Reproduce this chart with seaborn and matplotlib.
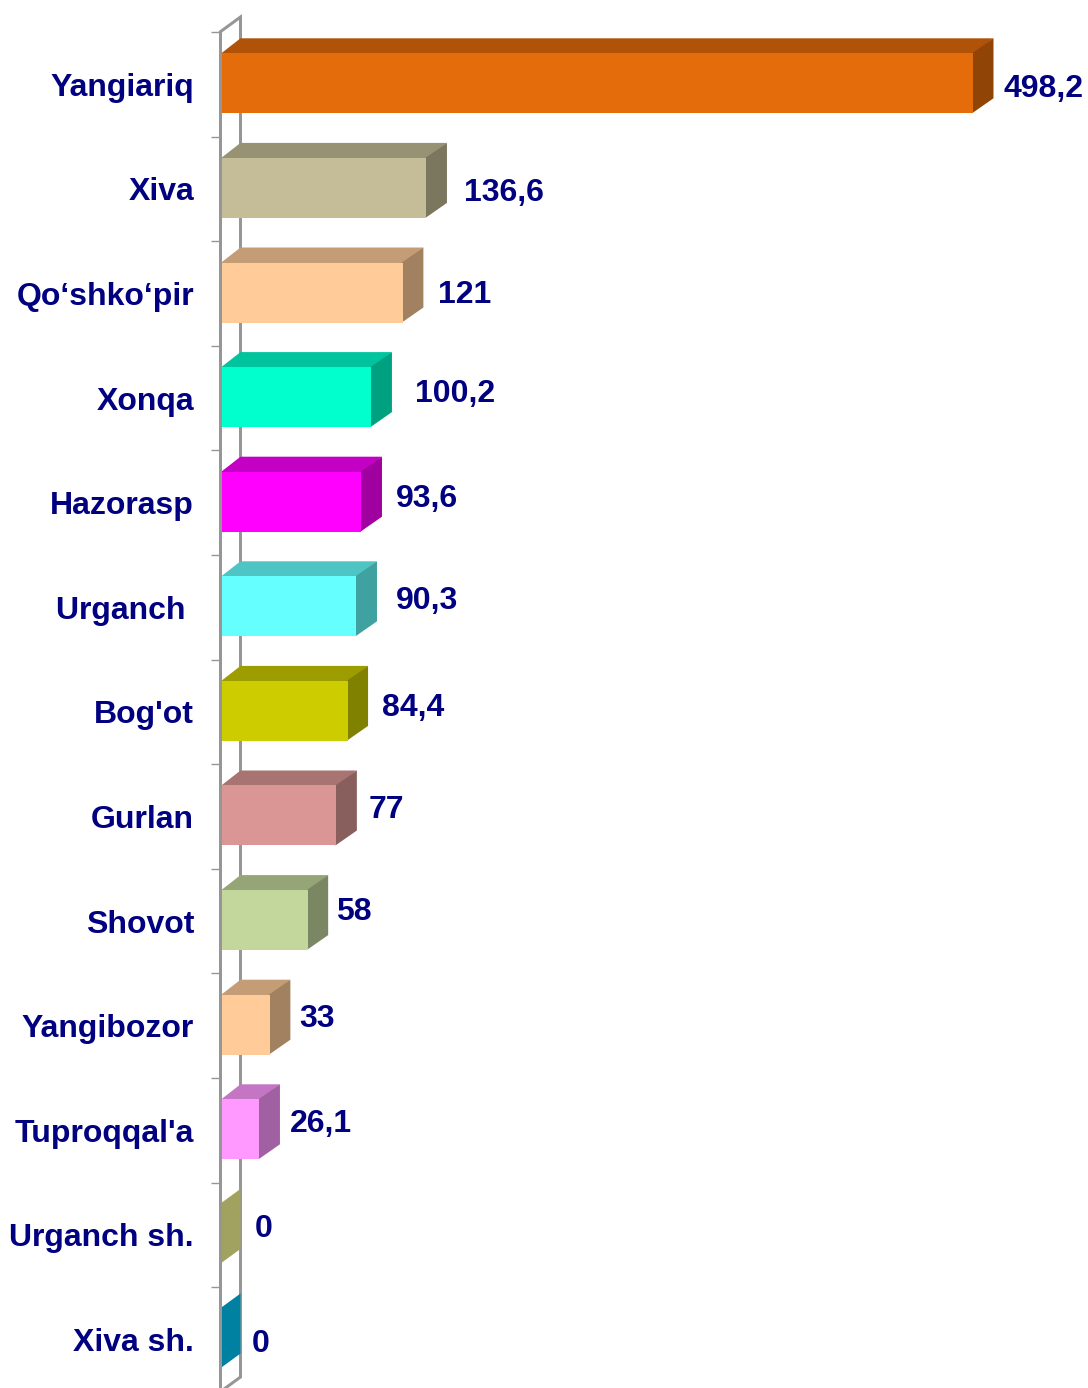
import numpy as np
import pandas as pd
import matplotlib
matplotlib.use("Agg")
import matplotlib.pyplot as plt
import seaborn as sns

categories = ["Yangiariq", "Xiva", "Qo‘shko‘pir", "Xonqa", "Hazorasp", "Urganch ", "Bog'ot",
              "Gurlan", "Shovot", "Yangibozor", "Tuproqqal'a", "Urganch sh.", "Xiva sh."]
values = [498.2, 136.6, 121, 100.2, 93.6, 90.3, 84.4, 77, 58, 33, 26.1, 0, 0]
value_labels = ["498,2", "136,6", "121", "100,2", "93,6", "90,3", "84,4", "77", "58", "33", "26,1", "0", "0"]
colors = ["#E46C0A", "#C4BD97", "#FFCC99", "#00FFCC", "#FF00FF", "#66FFFF", "#CCCC00",
          "#D99694", "#C3D69B", "#FFCC99", "#FF99FF", "#FFFF99", "#00CCFF"]
# label placement relative to the front end of each bar (pixels)
label_dx = [30.5, 38, 35.5, 44, 34, 39, 34, 32.1, 28.8, 29.5, 30.1, 34.5, 31.5]
label_dy = [1.9, 1.4, -1.1, -6.8, -6.2, -8.5, -6.3, -8.6, -11.5, -8.8, -9.2, -8.7, 1.7]

W, H, DPI = 1088, 1388, 100
PX = 72 / DPI
NAVY = "#000080"
GRAY = "#969696"
DEPTH_X, DEPTH_Y = 20.5, 15      # 3-D depth in pixels
X0, PX_PER_UNIT = 220.0, 1.5114
ROW0, ROW = 83.3, 104.6          # row centres in pixels
AX_TOP, AX_BOTTOM = 32, 1392
TICK_STEP = 104.6

sns.set_style("white")
plt.rcParams["font.family"] = ["Liberation Sans", "DejaVu Sans"]

fig = plt.figure(figsize=(W / DPI, H / DPI), dpi=DPI, facecolor="white")
ax = fig.add_axes([X0 / W, (H - AX_BOTTOM) / H, (W - X0) / W, (AX_BOTTOM - AX_TOP) / H])
ax.patch.set_alpha(0)

df = pd.DataFrame({"category": categories, "value": values})
sns.barplot(data=df, y="category", x="value", hue="category", order=categories,
            hue_order=categories, palette=colors, dodge=False, legend=False,
            width=60 / ROW, saturation=1, linewidth=0, ax=ax)

ax.set_xlim(0, (W - X0) / PX_PER_UNIT)
y_top = (AX_TOP - ROW0) / ROW
y_bot = (AX_BOTTOM - ROW0) / ROW
ax.set_ylim(y_bot, y_top)
ax.set_xlabel("")
ax.set_ylabel("")
ax.xaxis.set_visible(False)

dx = DEPTH_X / PX_PER_UNIT
dy = -DEPTH_Y / ROW
seam_x = 1 / PX_PER_UNIT         # faces tuck 1 px under the front face
seam_y = 1 / ROW


def shade(c, f):
    return tuple(f * v for v in c[:3])


bars = [b for cont in ax.containers for b in cont]
for b in bars:
    x, y, w, h = b.get_x(), b.get_y(), b.get_width(), b.get_height()
    fc = b.get_facecolor()
    b.set_linewidth(0)
    b.set_zorder(1.2)
    # seaborn y axis is inverted: y is the top edge, y + h the bottom edge
    ax.fill([x, x + dx, x + w + dx, x + w], [y + seam_y, y + dy, y + dy, y + seam_y],
            color=shade(fc, 0.77), lw=0, zorder=1.05)
    ax.fill([max(x + w - seam_x, 0), x + w + dx, x + w + dx, max(x + w - seam_x, 0)],
            [y, y + dy, y + h + dy, y + h],
            color=shade(fc, 0.63), lw=0, zorder=1.1)

# back wall of the 3-D frame
ax.plot([0, dx, dx], [y_top, y_top + dy, y_bot + dy], color=GRAY, lw=3 * PX,
        clip_on=False, zorder=0.5, solid_joinstyle="miter")
ax.plot([0, dx], [y_bot, y_bot + dy], color=GRAY, lw=3 * PX, clip_on=False, zorder=0.5)

sns.despine(ax=ax, top=True, right=True, bottom=True, left=False)
ax.spines["left"].set_color(GRAY)
ax.spines["left"].set_linewidth(3 * PX)
ax.spines["left"].set_zorder(5)

ax.set_yticks((AX_TOP + TICK_STEP * np.arange(14) - ROW0) / ROW, minor=True)
ax.tick_params(axis="y", which="minor", left=True, length=9 * PX, width=1.4 * PX, color=GRAY)
ax.tick_params(axis="y", which="major", left=False, length=0, pad=26 * PX,
               labelsize=32 * PX, labelcolor=NAVY)
for t in ax.get_yticklabels():
    t.set_fontweight("bold")
    t.set_verticalalignment("center")
    t.set_transform(t.get_transform() + matplotlib.transforms.ScaledTranslation(0, -4.5 * PX / 72, fig.dpi_scale_trans))

for i, (v, lab) in enumerate(zip(values, value_labels)):
    ax.annotate(lab, xy=(v, i), xytext=(label_dx[i] * PX, -label_dy[i] * PX),
                textcoords="offset points", ha="left", va="center_baseline",
                color=NAVY, fontsize=32 * PX, fontweight="bold", annotation_clip=False)

fig.savefig("out.png", dpi=DPI)
